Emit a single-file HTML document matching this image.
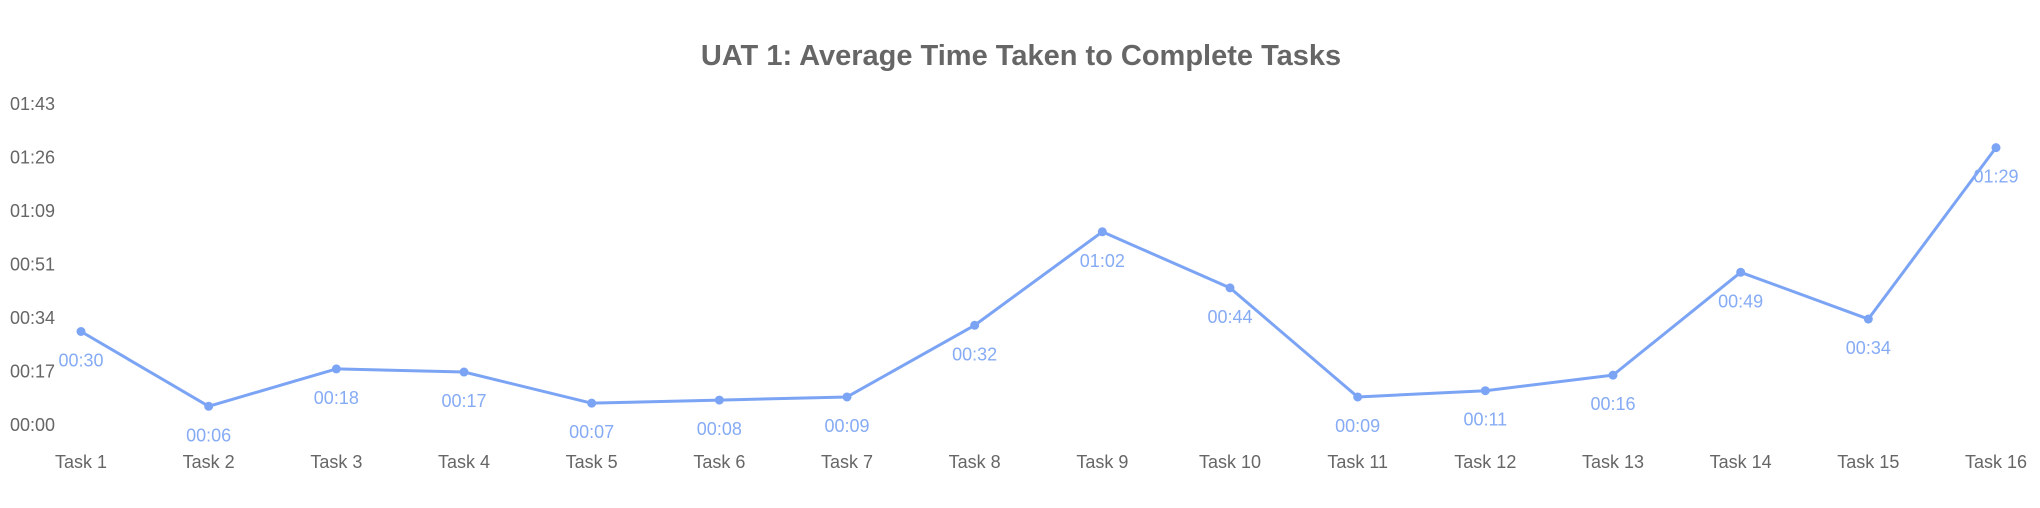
<!DOCTYPE html>
<html><head><meta charset="utf-8"><style>
html,body{margin:0;padding:0;background:#fff;}
svg{display:block;font-family:"Liberation Sans",sans-serif;}
</style></head><body>
<svg id="chart" width="2040" height="508">
<text x="1021" y="65" text-anchor="middle" font-size="29" font-weight="bold" fill="#666">UAT 1: Average Time Taken to Complete Tasks</text>
<g id="yaxis"></g>
<g id="xaxis"></g>
<g id="series"></g>
</svg>
<script>
const categories = ["Task 1","Task 2","Task 3","Task 4","Task 5","Task 6","Task 7","Task 8","Task 9","Task 10","Task 11","Task 12","Task 13","Task 14","Task 15","Task 16"];
const seconds = [30,6,18,17,7,8,9,32,62,44,9,11,16,49,34,89];
const yTickLabels = ["00:00","00:17","00:34","00:51","01:09","01:26","01:43"];
const yMax = 103;

const NS="http://www.w3.org/2000/svg";
const x0=81, x1=1996, yBase=425, yTop=104;
const xs=i=>x0+(x1-x0)*i/(categories.length-1);
const ys=v=>yBase-(yBase-yTop)*v/yMax;
const fmt=s=>String(Math.floor(s/60)).padStart(2,'0')+":"+String(Math.round(s%60)).padStart(2,'0');
function mk(tag,attrs,parent,text){const e=document.createElementNS(NS,tag);for(const k in attrs)e.setAttribute(k,attrs[k]);if(text!==undefined)e.textContent=text;parent.appendChild(e);return e;}
const ya=document.getElementById('yaxis'), xa=document.getElementById('xaxis'), sg=document.getElementById('series');
yTickLabels.forEach((t,i)=>{
  const v=yMax*i/(yTickLabels.length-1);
  const e=mk('text',{x:10,y:ys(v)+6,'font-size':18,fill:'#666'},ya,t);
  
  
});
categories.forEach((c,i)=>{
  const e=mk('text',{x:xs(i),y:468,'text-anchor':'middle','font-size':18,fill:'#666'},xa,c);
  
  
});
const pts=seconds.map((v,i)=>xs(i)+","+ys(v)).join(" ");
const line=mk('polyline',{points:pts,fill:'none',stroke:'#7ca4f4','stroke-width':3,'stroke-linejoin':'round'},sg);


seconds.forEach((v,i)=>{
  const c=mk('circle',{cx:xs(i),cy:ys(v),r:4.5,fill:'#7ca4f4'},sg);
  
  
  const t=mk('text',{x:xs(i),y:ys(v)+35,'text-anchor':'middle','font-size':18,fill:'#86abf5'},sg,fmt(v));
  
  
});
</script>
</body></html>
